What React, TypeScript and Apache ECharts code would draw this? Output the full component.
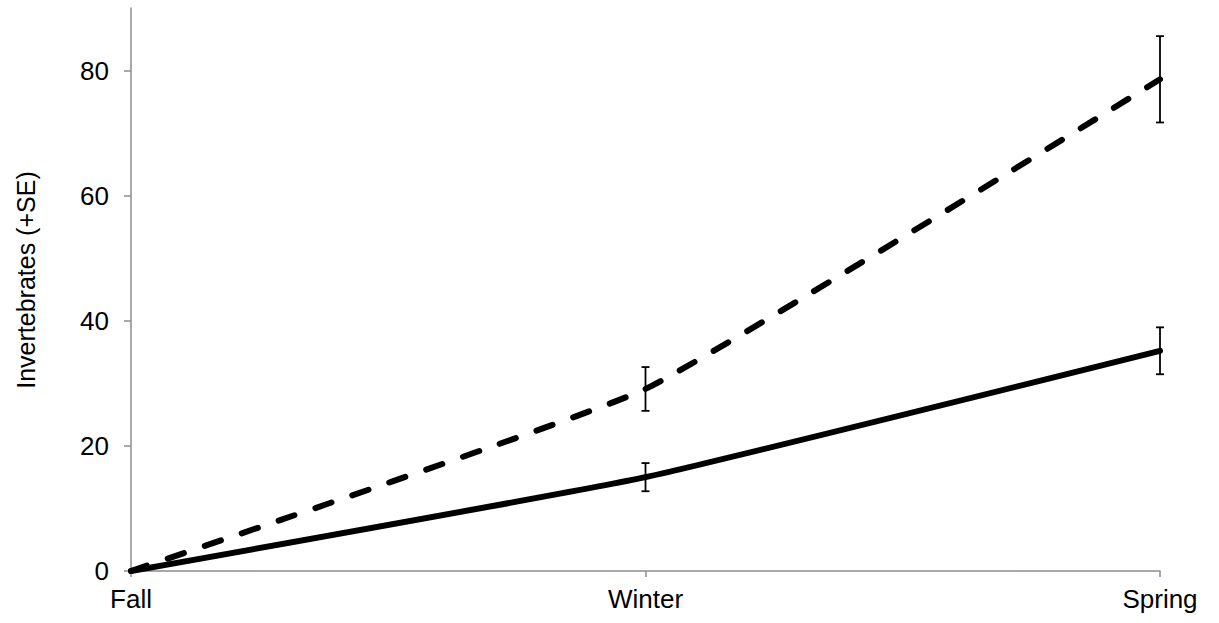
import React, { useEffect, useRef } from "react";
import * as echarts from "echarts";

const categories = ["Fall", "Winter", "Spring"];
const dashedValues = [0, 29.1, 78.6];
const dashedSE = [0, 3.5, 6.9];
const solidValues = [0, 15.0, 35.2];
const solidSE = [0, 2.25, 3.75];
const yTicks = [0, 20, 40, 60, 80];

export default function App() {
  const ref = useRef<HTMLDivElement>(null);
  useEffect(() => {
    if (!ref.current) return;
    const chart = echarts.init(ref.current, null, { renderer: "svg" });
    const errData: number[][] = [];
    categories.forEach((_, i) => {
      if (dashedSE[i] > 0) errData.push([i, dashedValues[i] - dashedSE[i], dashedValues[i] + dashedSE[i]]);
      if (solidSE[i] > 0) errData.push([i, solidValues[i] - solidSE[i], solidValues[i] + solidSE[i]]);
    });
    const font = "Liberation Sans, Arial, sans-serif";
    chart.setOption({
      animation: false,
      grid: { left: 131, right: 59, top: 8, bottom: 52, containLabel: false },
      xAxis: {
        type: "category",
        data: categories,
        boundaryGap: false,
        axisLine: { lineStyle: { color: "#8c8c8c", width: 1.5 } },
        axisTick: { show: true, length: 6, lineStyle: { color: "#8c8c8c", width: 1.5 } },
        axisLabel: { color: "#000", fontSize: 26, fontFamily: font, margin: 15 },
        splitLine: { show: false },
      },
      yAxis: {
        type: "value",
        min: 0,
        max: 90,
        interval: 20,
        axisLine: { show: true, lineStyle: { color: "#8c8c8c", width: 1.5 } },
        axisTick: { show: true, length: 7, customValues: yTicks, lineStyle: { color: "#8c8c8c", width: 1.5 } },
        axisLabel: { color: "#000", fontSize: 26, fontFamily: font, margin: 22, customValues: yTicks },
        splitLine: { show: false },
      },
      graphic: [
        {
          type: "text",
          x: 26,
          y: 280,
          rotation: Math.PI / 2,
          style: {
            text: "Invertebrates (+SE)",
            fontSize: 25,
            fontFamily: font,
            fill: "#000",
            align: "center",
            verticalAlign: "middle",
          },
        },
      ],
      series: [
        {
          type: "line",
          data: dashedValues,
          smooth: 0.12,
          symbol: "none",
          lineStyle: { color: "#000", width: 6, type: [17, 22], cap: "round" },
          z: 3,
        },
        {
          type: "line",
          data: solidValues,
          smooth: 0.12,
          symbol: "none",
          lineStyle: { color: "#000", width: 6, cap: "round" },
          z: 3,
        },
        {
          type: "custom",
          data: errData,
          z: 4,
          renderItem: (params: any, api: any) => {
            const x = api.value(0);
            const lo = api.coord([x, api.value(1)]);
            const hi = api.coord([x, api.value(2)]);
            const hw = 4;
            const style = { stroke: "#000", lineWidth: 1.8 };
            return {
              type: "group",
              children: [
                { type: "line", shape: { x1: lo[0], y1: lo[1], x2: hi[0], y2: hi[1] }, style },
                { type: "line", shape: { x1: lo[0] - hw, y1: lo[1], x2: lo[0] + hw, y2: lo[1] }, style },
                { type: "line", shape: { x1: hi[0] - hw, y1: hi[1], x2: hi[0] + hw, y2: hi[1] }, style },
              ],
            };
          },
        },
      ],
    });
    return () => chart.dispose();
  }, []);
  return (
    <div
      ref={ref}
      style={{ position: "absolute", left: 0, top: 0, width: 1219, height: 623, background: "#fff" }}
    />
  );
}
